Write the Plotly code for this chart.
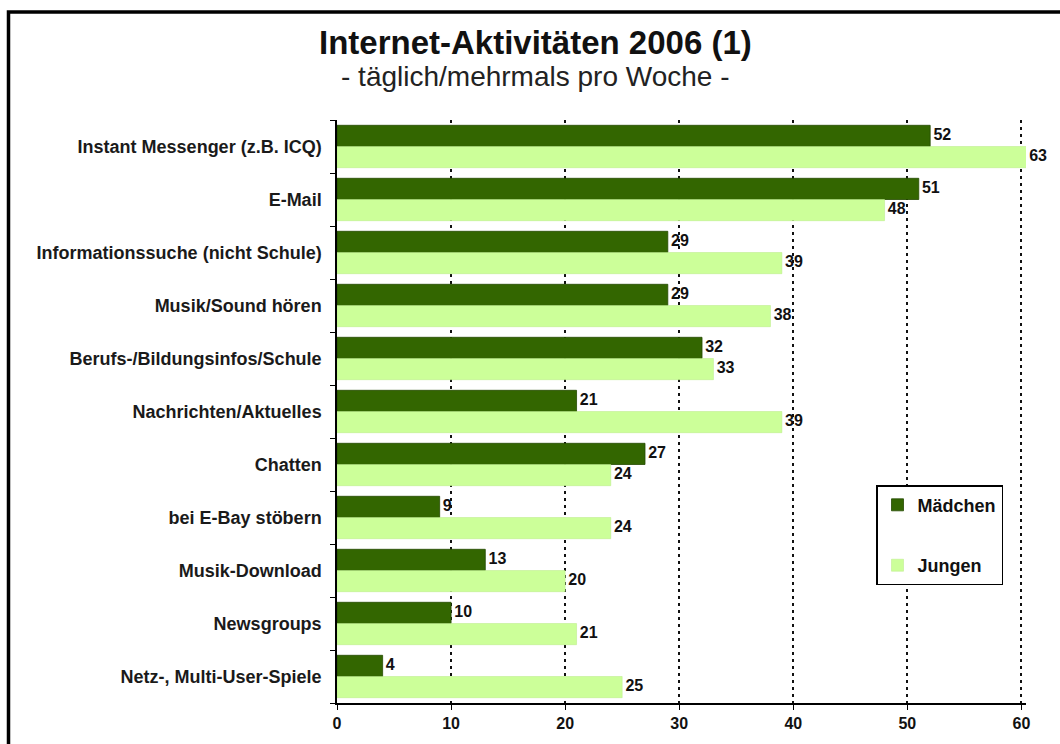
import numpy as np
import plotly.graph_objects as go

categories = [
    "Instant Messenger (z.B. ICQ)",
    "E-Mail",
    "Informationssuche (nicht Schule)",
    "Musik/Sound hören",
    "Berufs-/Bildungsinfos/Schule",
    "Nachrichten/Aktuelles",
    "Chatten",
    "bei E-Bay stöbern",
    "Musik-Download",
    "Newsgroups",
    "Netz-, Multi-User-Spiele",
]
maedchen = [52, 51, 29, 29, 32, 21, 27, 9, 13, 10, 4]
jungen = [63, 48, 39, 38, 33, 39, 24, 24, 20, 21, 25]
x_ticks = [0, 10, 20, 30, 40, 50, 60]

W, H = 1060, 744
ML, MR, MT, MB = 337, 34, 120, 38
XMAX = 60.4
FONT = "Arial, Liberation Sans, sans-serif"

pos = np.arange(len(categories))
pw, ph = W - ML - MR, H - MT - MB


def px_x(p):
    return (p - ML) / pw


def px_y(p):
    return (H - MB - p) / ph


fig = go.Figure()
fig.add_trace(go.Bar(
    name="Mädchen", y=pos, x=maedchen, orientation="h",
    width=0.4, offset=-0.4,
    marker=dict(color="#336600", line=dict(color="#244a00", width=0.8)),
    legendgroup="m",
))
fig.add_trace(go.Bar(
    name="Jungen", y=pos, x=jungen, orientation="h",
    width=0.4, offset=0.0,
    marker=dict(color="#CCFF99", line=dict(color="#b8eb85", width=0.5)),
    legendgroup="j",
))

# value labels
lab_y = np.concatenate([pos - 0.2, pos + 0.2])
lab_x = np.minimum(np.array(maedchen + jungen, dtype=float), XMAX)
lab_t = ["\u2009" + str(v) for v in maedchen + jungen]
fig.add_trace(go.Scatter(
    x=lab_x, y=lab_y, text=lab_t, mode="text", textposition="middle right",
    textfont=dict(family=FONT, size=16, color="#111111", weight="bold"),
    showlegend=False, cliponaxis=False, hoverinfo="skip",
))

fig.update_layout(
    width=W, height=H,
    margin=dict(l=ML, r=MR, t=MT, b=MB),
    paper_bgcolor="white", plot_bgcolor="white",
    barmode="overlay",
    font=dict(family=FONT, color="#111111"),
    xaxis=dict(
        range=[0, XMAX], tickvals=x_ticks, ticktext=[str(t) for t in x_ticks],
        showgrid=True, gridcolor="#111111", gridwidth=1.6, griddash="3px,4px",
        zeroline=False, showline=True, linecolor="#000000", linewidth=1.5,
        ticks="outside", ticklen=5, tickcolor="#000000", tickwidth=1.2,
        tickfont=dict(family=FONT, size=16, color="#111111", weight="bold"),
    ),
    yaxis=dict(
        range=[len(categories) - 0.5, -0.5],
        tickvals=list(pos), ticktext=categories,
        showgrid=False, zeroline=False, showline=True,
        linecolor="#000000", linewidth=1.5, ticks="", ticklabelstandoff=10,
        tickfont=dict(family=FONT, size=18, color="#1a1a1a", weight="bold"),
        minor=dict(tickvals=list(pos - 0.5) + [len(categories) - 0.5],
                   ticks="outside", ticklen=5, tickcolor="#000000", tickwidth=1.2),
    ),
    legend=dict(
        x=px_x(876), y=px_y(487), xanchor="left", yanchor="top",
        bgcolor="white", bordercolor="#000000", borderwidth=1.5,
        font=dict(family=FONT, size=18, color="#111111", weight="bold"),
        tracegroupgap=34, itemwidth=30,
    ),
    showlegend=True,
    annotations=[
        dict(text="<b>Internet-Aktivitäten 2006 (1)</b>", x=px_x(535), y=px_y(42),
             xref="paper", yref="paper", showarrow=False, xanchor="center", yanchor="middle",
             font=dict(family=FONT, size=33, color="#111111")),
        dict(text="- täglich/mehrmals pro Woche -", x=px_x(535), y=px_y(76),
             xref="paper", yref="paper", showarrow=False, xanchor="center", yanchor="middle",
             font=dict(family=FONT, size=28, color="#222222")),
    ],
    shapes=[
        dict(type="rect", xref="paper", yref="paper",
             x0=px_x(8.5), x1=px_x(1100), y0=px_y(800), y1=px_y(11.5),
             line=dict(color="#000000", width=3.5), layer="above"),
    ],
)

fig.write_html("out.html")
